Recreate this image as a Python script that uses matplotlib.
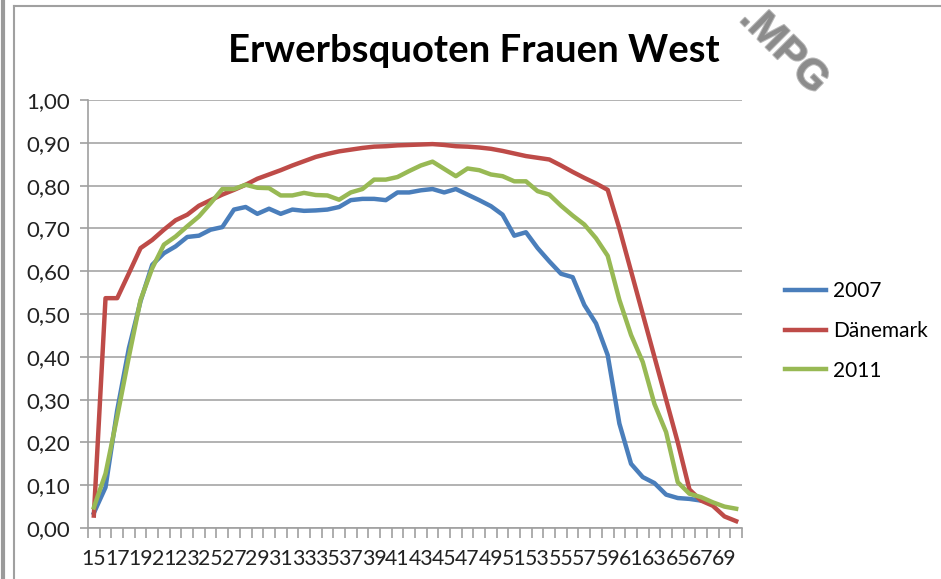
import matplotlib
matplotlib.use('Agg')
import matplotlib.pyplot as plt
import matplotlib.patheffects as pe
from matplotlib.lines import Line2D
import numpy as np

ages = list(range(15, 71))

quote_2007 = [0.035, 0.095, 0.275, 0.42, 0.53, 0.615, 0.642, 0.658, 0.68, 0.683,
              0.697, 0.703, 0.744, 0.75, 0.734, 0.746, 0.734, 0.744, 0.741, 0.742,
              0.744, 0.75, 0.766, 0.769, 0.769, 0.766, 0.784, 0.784, 0.789, 0.792,
              0.784, 0.792, 0.779, 0.766, 0.752, 0.732, 0.683, 0.691, 0.654, 0.623,
              0.594, 0.586, 0.521, 0.478, 0.404, 0.244, 0.15, 0.119, 0.105, 0.078,
              0.07, 0.068, 0.064, None, None, None]

quote_daenemark = [0.029, 0.537, 0.537, 0.595, 0.654, 0.673, 0.697, 0.719, 0.732, 0.753,
                   0.766, 0.779, 0.79, 0.802, 0.816, 0.826, 0.836, 0.847, 0.857, 0.867,
                   0.874, 0.88, 0.884, 0.888, 0.891, 0.892, 0.894, 0.895, 0.896, 0.897,
                   0.895, 0.892, 0.891, 0.889, 0.886, 0.881, 0.875, 0.869, 0.865, 0.861,
                   0.847, 0.832, 0.818, 0.805, 0.79, 0.70, 0.60, 0.50, 0.40, 0.30,
                   0.20, 0.09, 0.064, 0.052, 0.027, 0.016]

quote_2011 = [0.048, 0.127, 0.26, 0.40, 0.533, 0.607, 0.662, 0.681, 0.705, 0.728,
              0.759, 0.792, 0.792, 0.802, 0.795, 0.794, 0.777, 0.777, 0.783, 0.778,
              0.777, 0.767, 0.784, 0.792, 0.814, 0.814, 0.82, 0.834, 0.847, 0.856,
              0.839, 0.822, 0.84, 0.836, 0.826, 0.822, 0.81, 0.81, 0.787, 0.779,
              0.753, 0.73, 0.709, 0.677, 0.636, 0.533, 0.451, 0.388, 0.29, 0.224,
              0.107, 0.08, 0.072, 0.06, 0.05, 0.045]

y_ticks = [0.0, 0.1, 0.2, 0.3, 0.4, 0.5, 0.6, 0.7, 0.8, 0.9, 1.0]
y_labels = ['0,00', '0,10', '0,20', '0,30', '0,40', '0,50', '0,60', '0,70', '0,80', '0,90', '1,00']

plt.rcParams['font.family'] = ['Lato', 'DejaVu Sans']

fig = plt.figure(figsize=(9.41, 5.79), dpi=100)
ax = fig.add_axes([88 / 941, 51 / 579, 654 / 941, 428 / 579])

x = np.arange(len(ages))

def to_arr(v):
    return np.array([np.nan if a is None else a for a in v], dtype=float)

ax.plot(x, to_arr(quote_2007), color='#4a7ebb', lw=3.2, label='2007', solid_joinstyle='round')
ax.plot(x, to_arr(quote_daenemark), color='#be4b48', lw=3.2, label='Dänemark', solid_joinstyle='round')
ax.plot(x, to_arr(quote_2011), color='#98b954', lw=3.2, label='2011', solid_joinstyle='round')

ax.set_xlim(-0.5, len(ages) - 0.5)
ax.set_ylim(0, 1.0)

ax.set_yticks(y_ticks)
ax.set_yticklabels(y_labels, fontsize=16, color='#222222')
ax.set_xticks(x[::2])
ax.set_xticklabels([str(a) for a in ages[::2]], fontsize=15.3, color='#222222')
ax.set_xticks(np.arange(-0.5, len(ages), 1), minor=True)
ax.tick_params(axis='x', which='major', length=0, pad=15)
ax.tick_params(axis='x', which='minor', length=7, color='#a0a0a0', width=1.2)
ax.tick_params(axis='y', length=6, color='#a0a0a0', width=1.2, pad=7)

ax.grid(axis='y', color='#a6a6a6', lw=1.2)
ax.set_axisbelow(True)
for s in ['top', 'right']:
    ax.spines[s].set_visible(False)
for s in ['left', 'bottom']:
    ax.spines[s].set_color('#a0a0a0')
    ax.spines[s].set_linewidth(1.2)

fig.text(474 / 941, 1 - 51 / 579, 'Erwerbsquoten Frauen West', fontsize=27.5, fontweight='bold',
         ha='center', va='center')

fig.legend(loc='center left', bbox_to_anchor=(766 / 941, 1 - 331 / 579), frameon=False,
           fontsize=15, handlelength=2.0, handletextpad=0.3, labelspacing=0.95)

# watermark
fig.text(784 / 941, 1 - 50 / 579, '.MPG', fontsize=30, fontweight='bold', family='Liberation Sans',
         color='#8c8c8c', rotation=-45, ha='center', va='center',
         path_effects=[pe.withStroke(linewidth=1.5, foreground='#b8b8b8')])

# frame lines of the screenshot
fig.add_artist(Line2D([3 / 941, 3 / 941], [0, 1], color='#9a9a9a', lw=3))
fig.add_artist(Line2D([14 / 941, 14 / 941], [0, 1 - 6 / 579], color='#a0a0a0', lw=1.5))
fig.add_artist(Line2D([14 / 941, 1], [1 - 6 / 579, 1 - 6 / 579], color='#a0a0a0', lw=1.5))

fig.savefig('out.png', dpi=100)
